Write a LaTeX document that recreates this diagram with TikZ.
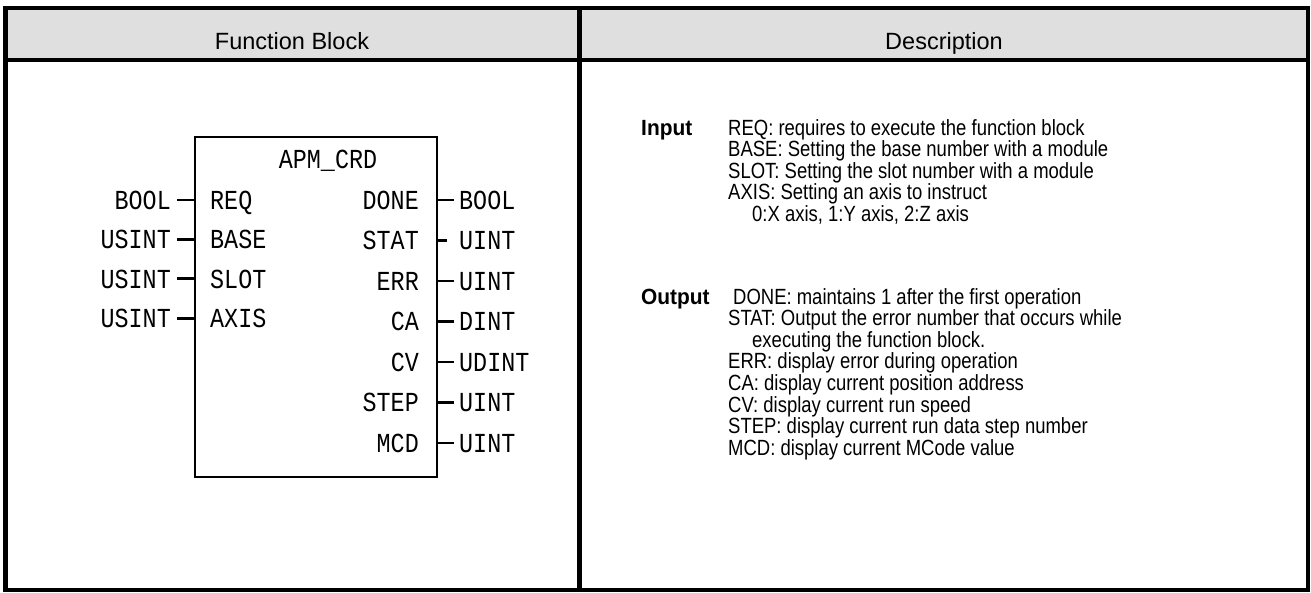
\documentclass[tikz,border=0pt]{standalone}
\usepackage{fontspec}
\setmainfont{Liberation Sans}
\newfontfamily\descfont[FakeStretch=0.84]{Liberation Sans}
\newfontfamily\lblfont[FakeStretch=0.95]{Liberation Sans}
\newfontfamily\fbfont[FakeStretch=0.85]{Liberation Mono}
\usetikzlibrary{positioning}
\colorlet{headfill}{black!12.5}

\begin{document}
\begin{tikzpicture}[x=1pt,y=-1pt,
    frame/.style={line width=4.5pt},
    fbbox/.style={draw, line width=2.3pt, minimum width=242pt, minimum height=340pt, inner sep=0pt},
    fbtext/.style={font=\fbfont\fontsize{27.5}{28}\selectfont, inner ysep=0pt, text height=18.8pt, text depth=0pt},
    intype/.style={fbtext, anchor=east, inner xsep=6pt},
    outtype/.style={fbtext, anchor=west},
    pinin/.style={fbtext, anchor=west, inner xsep=0pt},
    pinout/.style={fbtext, anchor=east, inner xsep=0pt},
    stub/.style={line width=2.7pt},
    headtext/.style={font=\fontsize{23.5}{24}\selectfont, anchor=base, inner sep=0pt},
    desc/.style={font=\descfont\fontsize{22}{23}\selectfont, anchor=base west, inner sep=0pt},
    desclabel/.style={desc, font=\lblfont\bfseries\fontsize{22}{23}\selectfont}
  ]
  \useasboundingbox (0,0) rectangle (1311,592);

  % Table: header row and two columns
  \fill[headfill] (5.5,8) rectangle (1308,60);
  \draw[frame] (5.5,8) rectangle (1308,590);
  \draw[frame] (5.5,60) -- (1308,60);
  \draw[frame] (579.5,8) -- (579.5,590);
  \node[headtext] (hfb) at (292,49) {Function Block};
  \node[headtext] (hdesc) at (944,49) {Description};

  % Function block body
  \node[fbbox] (fb) at (316,307) {};
  \node[fbtext] (fbname) at (328,159) {APM\_CRD};

  % Input pins
  \foreach \pin/\typ [count=\i] in {REQ/BOOL, BASE/USINT, SLOT/USINT, AXIS/USINT} {
    \pgfmathsetmacro{\yy}{200+39.4*(\i-1)}
    \node[pinin] (in\i) at (210,\yy) {\pin};
    \node[intype] (tin\i) at (177,\yy) {\typ};
    \draw[stub] (tin\i.east) -- (tin\i.east -| fb.west);
  }

  % Output pins (STAT has the shorter stub)
  \foreach \pin/\typ/\xs [count=\i] in {DONE/BOOL/5, STAT/UINT/12, ERR/UINT/5, CA/DINT/5, CV/UDINT/5, STEP/UINT/5, MCD/UINT/5} {
    \pgfmathsetmacro{\yy}{200+40.5*(\i-1)}
    \node[pinout] (out\i) at (419,\yy) {\pin};
    \node[outtype, inner xsep=\xs pt] (tout\i) at ({459-\xs},\yy) {\typ};
    \draw[stub] (fb.east |- tout\i.west) -- (tout\i.west);
  }

  % Description: inputs
  \node[desclabel] (inlab) at (641,135) {Input};
  \foreach \txt [count=\i] in {{REQ: requires to execute the function block},
      {BASE: Setting the base number with a module},
      {SLOT: Setting the slot number with a module},
      {AXIS: Setting an axis to instruct},
      {\hspace*{24pt}0:X axis, 1:Y axis, 2:Z axis}} {
    \node[desc] (inl\i) at (728,{135+21.5*(\i-1)}) {\txt};
  }

  % Description: outputs
  \node[desclabel] (outlab) at (641,304) {Output};
  \foreach \txt [count=\i] in {{\hspace*{5pt}DONE: maintains 1 after the first operation},
      {STAT: Output the error number that occurs while},
      {\hspace*{24pt}executing the function block.},
      {ERR: display error during operation},
      {CA: display current position address},
      {CV: display current run speed},
      {STEP: display current run data step number},
      {MCD: display current MCode value}} {
    \node[desc] (outl\i) at (728,{304+21.6*(\i-1)}) {\txt};
  }
\end{tikzpicture}
\end{document}
